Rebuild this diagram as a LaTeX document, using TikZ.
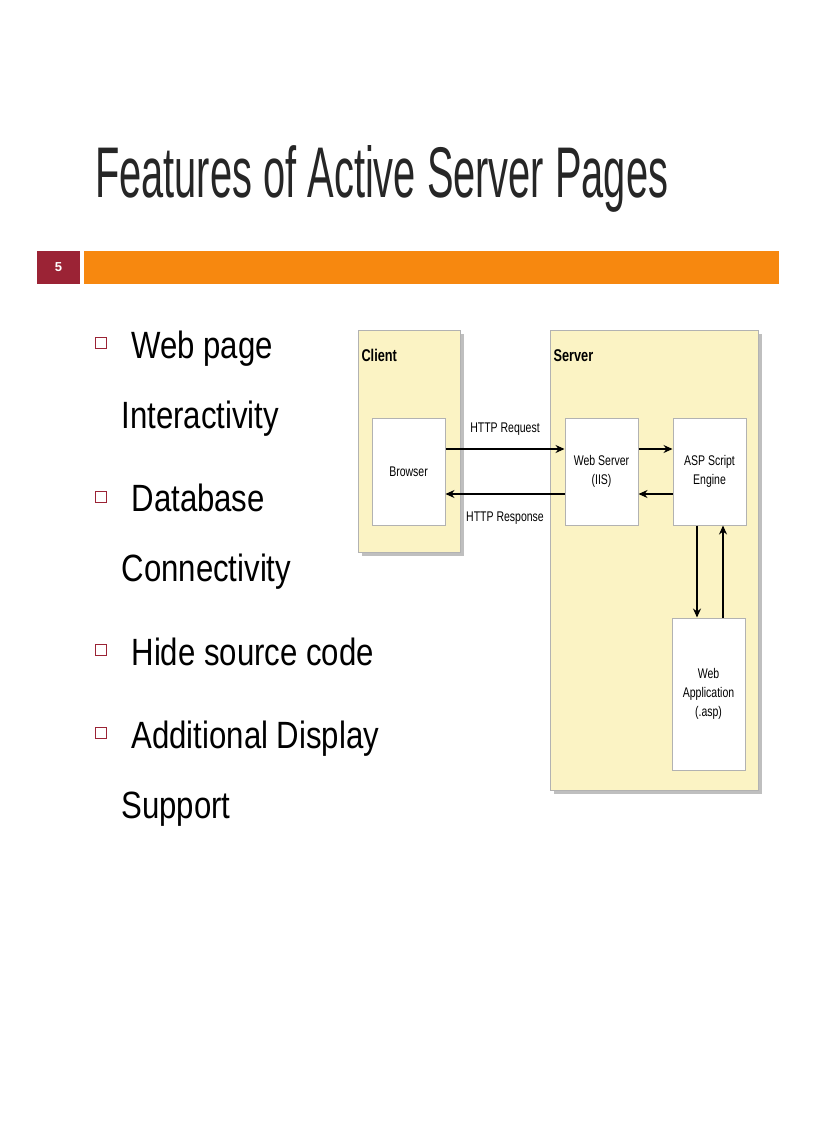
\documentclass[tikz,border=0pt]{standalone}
\usepackage{fontspec}
\setmainfont{Liberation Sans}
\usetikzlibrary{arrows.meta}
\definecolor{bar}{HTML}{F7880F}
\definecolor{numred}{HTML}{9B2335}
\definecolor{pane}{HTML}{FBF3C4}
\newcommand{\sq}[1]{\scalebox{0.82}[1]{#1}}
\newcommand{\sqd}[1]{\scalebox{0.75}[1]{#1}}
\tikzset{x=1pt,y=-1pt,
 pane/.style={draw=gray!60,fill=pane,line width=1pt},
 inbox/.style={draw=gray!60,fill=white,line width=1pt,align=center,font=\fontsize{14}{19}\selectfont},
 conn/.style={-{Stealth[length=9pt,width=8pt]},line width=1.2pt},
 lbl/.style={font=\fontsize{14}{15}\selectfont},
 bul/.style={draw=numred,line width=1.6pt,minimum size=11pt,inner sep=0pt},
 btxt/.style={anchor=base west,font=\fontsize{38}{40}\selectfont}}
\begin{document}
\begin{tikzpicture}
\useasboundingbox[fill=white] (0,0) rectangle (816,1123);
\node[anchor=base west,inner sep=0,text=black!85] (title) at (95,198) {\resizebox{573pt}{52pt}{\fontsize{56}{60}\selectfont Features of Active Server Pages}};
\fill[bar] (84,251) rectangle (779,284);
\fill[numred] (37,251) rectangle (80,284);
\node[text=white,font=\bfseries\fontsize{13}{15}\selectfont] (num) at (58.5,267.5) {5};
% bullets
\foreach \y/\n in {343/b1,497/b2,650/b3,733/b4}{\node[bul] (\n) at (101,\y) {};}
\node[btxt] (t1) at (128,358) {\sq{Web page}};
\node[btxt] (t1b) at (118,428) {\sq{Interactivity}};
\node[btxt] (t2) at (128,511) {\sq{Database}};
\node[btxt] (t2b) at (118,581) {\sq{Connectivity}};
\node[btxt] (t3) at (128,665) {\sq{Hide source code}};
\node[btxt] (t4) at (128,748) {\sq{Additional Display}};
\node[btxt] (t4b) at (118,818) {\sq{Support}};
% diagram
\fill[gray!50] (362,334) rectangle (464,556);
\fill[gray!50] (554,334) rectangle (762,794);
\draw[pane] (358,330) rectangle (460,552);
\draw[pane] (550,330) rectangle (758,790);
\node[anchor=north west,font=\bfseries\fontsize{17}{19}\selectfont] (client) at (358,346) {\sqd{Client}};
\node[anchor=north west,font=\bfseries\fontsize{17}{19}\selectfont] (server) at (550,346) {\sqd{Server}};
\node[inbox,minimum width=73pt,minimum height=107pt] (br) at (408.5,471.5) {\sqd{Browser}};
\node[inbox,minimum width=73pt,minimum height=107pt] (ws) at (601.5,471.5) {\sqd{Web Server}\\\sqd{(IIS)}};
\node[inbox,minimum width=73pt,minimum height=107pt] (asp) at (709.5,471.5) {\sqd{ASP Script}\\\sqd{Engine}};
\node[inbox,minimum width=73pt,minimum height=152pt] (app) at (708.5,694) {\sqd{Web}\\\sqd{Application}\\\sqd{(.asp)}};
\draw[conn] (br.east|-0,449) -- (ws.west|-0,449);
\draw[conn] (ws.west|-0,494) -- (br.east|-0,494);
\draw[conn] (ws.east|-0,449) -- (asp.west|-0,449);
\draw[conn] (asp.west|-0,494) -- (ws.east|-0,494);
\draw[conn] (697,0|-asp.south) -- (697,0|-app.north);
\draw[conn] (723,0|-app.north) -- (723,0|-asp.south);
\node[lbl] (req) at (505,429) {\sqd{HTTP Request}};
\node[lbl] (resp) at (505,518) {\sqd{HTTP Response}};
\end{tikzpicture}
\end{document}
